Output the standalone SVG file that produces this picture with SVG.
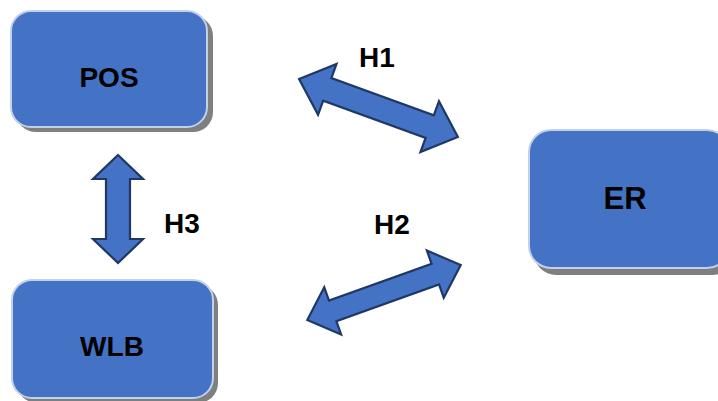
<svg xmlns="http://www.w3.org/2000/svg" width="718" height="401" viewBox="0 0 718 401">
  <style>
    .box { fill: #4472c4; stroke: #c3d0ea; stroke-width: 2; }
    .shadow { fill: #7f7f7f; }
    .arrow { fill: #4472c4; stroke: #1f3864; stroke-width: 2.2; stroke-linejoin: miter; }
    .label { font-family: "Liberation Sans", Arial, sans-serif; font-weight: bold; fill: #000; text-anchor: middle; }
  </style>
  <rect width="718" height="401" fill="#ffffff"/>

  <g id="node-pos">
    <rect class="shadow" x="16" y="16" width="197" height="116" rx="20"/>
    <rect class="box" x="11" y="11" width="196" height="116" rx="20"/>
    <text class="label" x="109" y="87" font-size="28">POS</text>
  </g>

  <g id="node-er">
    <rect class="shadow" x="534" y="136" width="200" height="139" rx="22"/>
    <rect class="box" x="529" y="130" width="200" height="138" rx="22"/>
    <text class="label" x="625" y="209" font-size="31">ER</text>
  </g>

  <g id="node-wlb">
    <rect class="shadow" x="17" y="285" width="201" height="118" rx="20"/>
    <rect class="box" x="12" y="280" width="201" height="118" rx="20"/>
    <text class="label" x="112" y="356" font-size="28">WLB</text>
  </g>

  <g id="connectors">
    <!-- H1: POS <-> ER -->
    <g id="conn-h1">
      <polygon class="arrow" transform="translate(378.5 108) rotate(20)"
        points="-84.5,0 -54.5,-27 -54.5,-12 54.5,-12 54.5,-27 84.5,0 54.5,27 54.5,12 -54.5,12 -54.5,27"/>
      <text class="label" x="377" y="67" font-size="28">H1</text>
    </g>
    <!-- H2: WLB <-> ER -->
    <g id="conn-h2">
      <polygon class="arrow" transform="translate(384 292.5) rotate(-19.7)"
        points="-81.5,0 -54.5,-25 -54.5,-11 54.5,-11 54.5,-25 81.5,0 54.5,25 54.5,11 -54.5,11 -54.5,25"/>
      <text class="label" x="392" y="234" font-size="28">H2</text>
    </g>
    <!-- H3: POS <-> WLB -->
    <g id="conn-h3">
      <polygon class="arrow"
        points="118,155 143,179 130,179 130,239 143,239 118,263 93,239 106,239 106,179 93,179"/>
      <text class="label" x="182" y="233" font-size="28">H3</text>
    </g>
  </g>
</svg>
